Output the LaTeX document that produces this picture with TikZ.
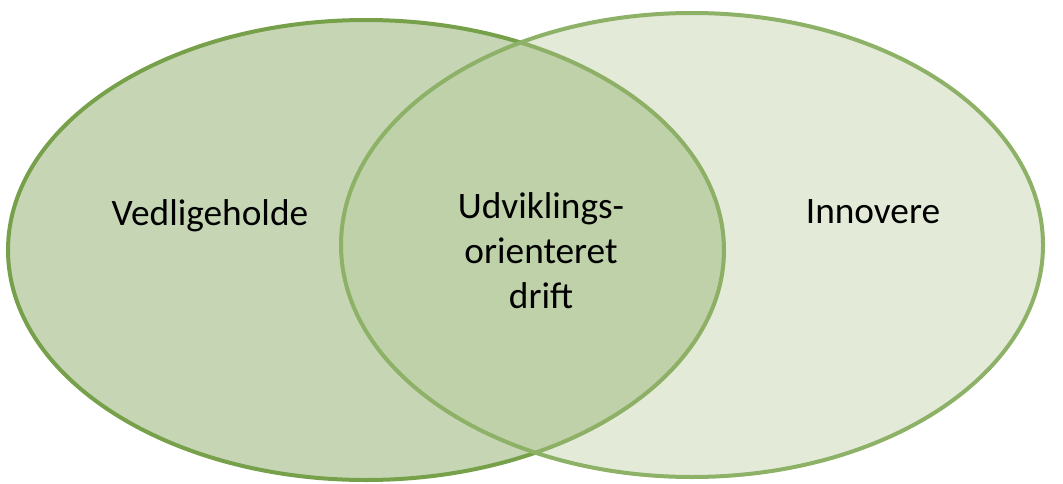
\documentclass[tikz,border=0pt]{standalone}
\usepackage{fontspec}
\setmainfont{Carlito}
\definecolor{vedlfill}{RGB}{198,214,180}
\definecolor{vedlline}{RGB}{119,160,74}
\definecolor{innofill}{RGB}{179,201,150}
\definecolor{innoline}{RGB}{141,177,102}
\tikzset{
  settext/.style={font=\fontsize{28}{33.5}\selectfont, align=center, inner sep=0pt, anchor=base},
  setline/.style={line width=3pt}
}
\begin{document}
\begin{tikzpicture}[x=0.75pt, y=0.75pt]
\useasboundingbox (0,0) rectangle (1063,483);
% the two sets
\draw[setline, draw=vedlline, fill=vedlfill] (366,233) ellipse [x radius=358, y radius=230];
\draw[setline, draw=innoline, fill=innofill, fill opacity=0.37] (692,238) ellipse [x radius=351, y radius=232];
% labels
\node[settext] (vedl) at (210,258) {Vedligeholde};
\node[settext] (inno) at (873,260) {Innovere};
\node[settext] (udv) at (541,175) {Udviklings-\\orienteret\\drift};
\end{tikzpicture}
\end{document}
